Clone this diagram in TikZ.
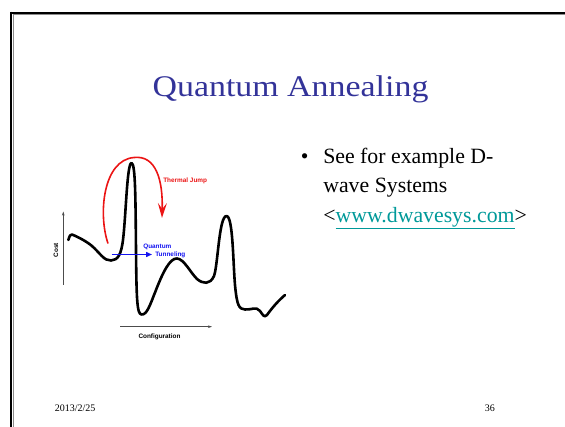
\documentclass[tikz,border=0pt]{standalone}
\usepackage{fontspec}
\setmainfont{Liberation Serif}
\newfontfamily\labelfont{Liberation Sans}
\usepackage{tikz}
\usetikzlibrary{arrows.meta}
\definecolor{titleblue}{RGB}{51,51,153}
\definecolor{linkteal}{RGB}{0,153,153}
\definecolor{jumpred}{RGB}{235,20,20}
\definecolor{tunnelblue}{RGB}{20,20,240}

\begin{document}
\begin{tikzpicture}[x=1pt, y=-1pt, line width=0.6pt,
  lbl/.style={font=\labelfont\bfseries\fontsize{6.4}{7}\selectfont, inner sep=0pt},
  axis/.style={->, >={Stealth[length=4pt,width=2.6pt]}, color=black!70, line width=0.7pt},
  costcurve/.style={line width=2.6pt, line join=round, line cap=round}]
\useasboundingbox (0,0) rectangle (565,427);
% ---- slide frame
\draw[black!45, line width=1pt] (12.5,15) -- (565,15);
\draw[black!45, line width=1pt] (13.5,15) -- (13.5,427);
\draw[line width=2.3pt] (11,12.8) -- (565,12.8);
\draw[line width=2.3pt] (11.2,11.7) -- (11.2,427);
% ---- title and text
\node[font=\fontsize{30}{36}\selectfont, text=titleblue, anchor=base, inner sep=0pt, xscale=1.13] (title) at (290.5,96.8) {Quantum Annealing};
\node[font=\fontsize{21.8}{29.5}\selectfont, anchor=base west, inner sep=0pt] (dot) at (300.5,163.3) {\textbullet};
\node[font=\fontsize{21.8}{29.5}\selectfont, anchor=north west, inner sep=0pt, align=left] (see) at (323,147.5)
  {See for example D-\\ wave Systems\\ <\textcolor{linkteal}{\underline{www.dwavesys.com}}>};
\node[font=\fontsize{10}{12}\selectfont, anchor=base west, inner sep=0pt] (date) at (54.5,411.5) {2013/2/25};
\node[font=\fontsize{10}{12}\selectfont, anchor=base west, inner sep=0pt] (page) at (484.5,411.5) {36};
% ---- axes
\coordinate (cost0) at (63.3,285);
\coordinate (cost1) at (63.3,211.5);
\coordinate (conf0) at (120,326.7);
\coordinate (conf1) at (212,326.7);
\draw[axis] (cost0) -- (cost1);
\draw[axis] (conf0) -- (conf1);
\node[lbl, rotate=90] (costlbl) at (56,250) {Cost};
\node[lbl] (conflbl) at (159.5,336.5) {Configuration};
% ---- cost landscape
\draw[costcurve] (68.3,240) .. controls (69.5,236) and (70.5,234) .. (72,234.5)
  .. controls (78,237) and (86,241) .. (92,246)
  .. controls (100,253) and (104,261) .. (111,260.5)
  .. controls (118,260) and (121,255) .. (123,240)
  .. controls (126,215) and (127,163) .. (131.5,163)
  .. controls (135.5,163) and (135.5,200) .. (136,250)
  .. controls (136.5,300) and (137,314) .. (141.5,314.5)
  .. controls (147,315) and (150,305) .. (156,290)
  .. controls (163,272) and (170,258) .. (177,258.5)
  .. controls (184,259) and (190,272) .. (197,279)
  .. controls (203,284) and (210,285) .. (214,276)
  .. controls (218,265) and (219,216) .. (226.5,216)
  .. controls (233,216) and (233,262) .. (235,285)
  .. controls (237,306) and (239,309) .. (245,309.5)
  .. controls (252,310) and (256,306) .. (260,311)
  .. controls (263,315) and (264,318) .. (267,315)
  .. controls (272,308) and (278,301) .. (285,295);
% ---- thermal jump and tunneling
\coordinate (jump0) at (108,243.5);
\coordinate (jumptop) at (134,157.5);
\coordinate (jump1) at (162,218);
\draw[jumpred, line width=1.6pt, -{Stealth[length=15pt,width=9pt,inset=6pt]}] (jump0)
  .. controls (98,214) and (103,160) .. (jumptop)
  .. controls (156,155) and (163,180) .. (jump1);
\node[lbl, text=jumpred, anchor=west] (jumplbl) at (163,180.5) {Thermal Jump};
\coordinate (tun0) at (111.5,254.5);
\coordinate (tun1) at (152,254.5);
\draw[tunnelblue, line width=1.4pt, -{Triangle[length=6pt,width=5pt]}] (tun0) -- (tun1);
\node[lbl, text=tunnelblue, anchor=west] (qlbl) at (143,246.5) {Quantum};
\node[lbl, text=tunnelblue, anchor=west] (tlbl) at (155,254.5) {Tunneling};
\end{tikzpicture}
\end{document}
